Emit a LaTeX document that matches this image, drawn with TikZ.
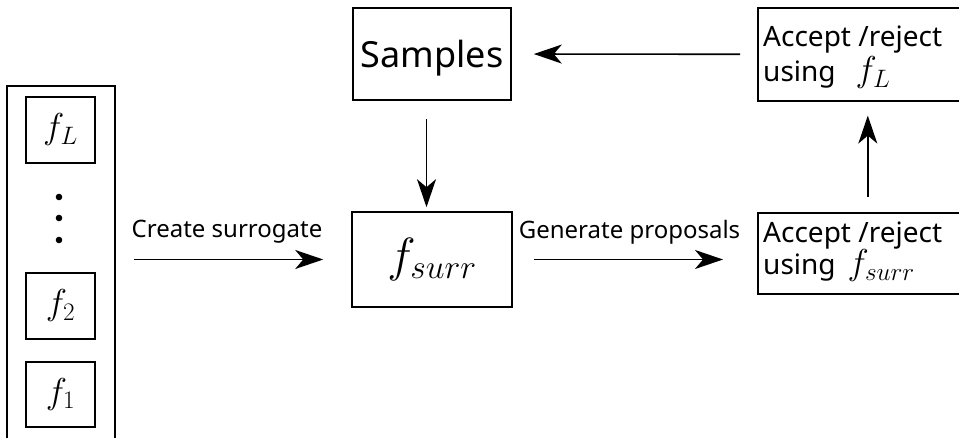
\RequirePackage{fix-cm}
\documentclass[tikz,border=0pt]{standalone}
\usepackage[no-math]{fontspec}
\newfontfamily\labelfont{Noto Sans}
\usetikzlibrary{arrows.meta}
% two left-aligned lines, first baseline on the box baseline, fixed line pitch
\newcommand\twolines[3]{\vtop{\baselineskip=#1\lineskiplimit=-100pt\lineskip=0pt
  \hbox{#2}\hbox{#3}}}
\begin{document}
\begin{tikzpicture}[x=1pt, y=-1pt,
  box/.style={draw, line width=1.6pt, inner sep=0pt},
  conn/.style={-{Stealth[length=28pt, width=19pt, inset=8pt]}, line width=1.6pt},
  bigmath/.style={font=\fontsize{36}{40}\selectfont},
  hugemath/.style={font=\fontsize{48}{54}\selectfont},
  boxtext/.style={font=\labelfont\fontsize{28}{34}\selectfont, inner sep=0pt},
  arrowtext/.style={font=\labelfont\fontsize{24}{28}\selectfont, inner sep=0pt}
]
\useasboundingbox (0,0) rectangle (959,438);

% stack of likelihood models on the left
\node[box, minimum width=108pt, minimum height=380pt] (stack) at (61,276) {};
\node[box, bigmath, minimum width=69pt, minimum height=66pt] (fL) at (60.5,130) {$f_L$};
\node[box, bigmath, minimum width=69pt, minimum height=66pt] (f2) at (60.5,306) {$f_2$};
\node[box, bigmath, minimum width=69pt, minimum height=65pt] (f1) at (60.5,394.5) {$f_1$};
\fill (59,197) circle (3.3pt);
\fill (59,218) circle (3.3pt);
\fill (59,240) circle (3.3pt);

% central boxes
\node[box, font=\labelfont\fontsize{36}{40}\selectfont, text depth=0pt,
      minimum width=158pt, minimum height=92pt] (samples) at (432,54) {Samples};
\node[box, hugemath, minimum width=160pt, minimum height=95pt] (fs) at (432,259.5) {$f_{surr}$};

% accept / reject boxes on the right
\node[box, anchor=north west, minimum width=225pt, minimum height=93pt] (accT) at (757,7) {};
\node[boxtext, anchor=base west] (accTtext) at (763,47)
  {\twolines{35pt}{Accept /reject}{using\hspace{20pt}{\fontsize{36}{40}\selectfont$f_L$}}};

\node[box, anchor=north west, minimum width=225pt, minimum height=81pt] (accB) at (757,212) {};
\node[boxtext, anchor=base west] (accBtext) at (763,243)
  {\twolines{32pt}{Accept /reject}{using\hspace{12pt}{\fontsize{36}{40}\selectfont$f_{surr}$}}};

% connectors
\draw[conn, shorten <=18pt, shorten >=28pt] (stack.east |- fs.west) -- (fs.west);
\draw[conn, shorten <=21pt, shorten >=34pt] (fs.east) -- (accB.west |- fs.east);
\draw[conn, shorten <=15pt, shorten >=14pt] ([xshift=-2.5pt]accB.north) -- ([xshift=-2.5pt]accT.south);
\draw[conn, shorten <=17pt, shorten >=22pt] (accT.west) -- (samples.east);
\draw[conn, shorten <=18pt, shorten >=4pt] ([xshift=-5.5pt]samples.south) -- ([xshift=-5.5pt]fs.north);

% arrow labels
\node[arrowtext, anchor=base] (lblCreate) at (227,238) {Create surrogate};
\node[arrowtext, anchor=base] (lblGen) at (629.5,239) {Generate proposals};
\end{tikzpicture}
\end{document}
